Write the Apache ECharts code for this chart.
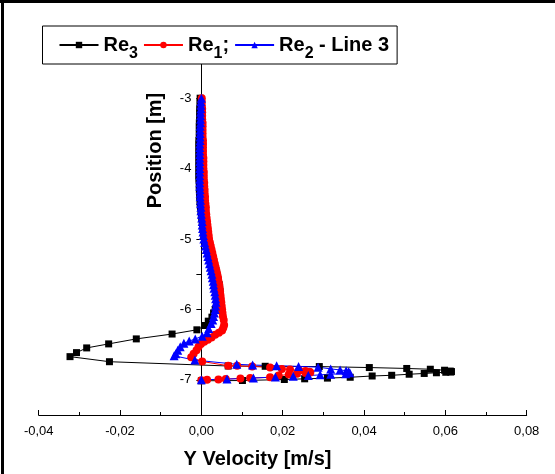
<!DOCTYPE html>
<html>
<head>
<meta charset="utf-8">
<script src="https://cdn.jsdelivr.net/npm/echarts@6/dist/echarts.min.js"></script>
<style>
html,body{margin:0;padding:0;background:#fff;}
#chart{width:555px;height:474px;}
</style>
</head>
<body>
<div id="chart"></div>
<script>
// ---- Data (velocity [m/s], position [m]) ----
const re3Y = [-3.00,-3.05,-3.10,-3.15,-3.20,-3.25,-3.30,-3.35,-3.40,-3.45,-3.50,-3.55,-3.60,-3.65,-3.70,-3.75,-3.80,-3.85,-3.90,-3.95,
  -4.00,-4.05,-4.10,-4.15,-4.20,-4.25,-4.30,-4.35,-4.40,-4.45,-4.50,-4.55,-4.60,-4.65,-4.70,-4.75,-4.80,-4.85,-4.90,-4.95,
  -5.00,-5.05,-5.10,-5.15,-5.20,-5.25,-5.30,-5.35,-5.40,-5.45,-5.50,-5.55,-5.60,-5.65,-5.70,-5.75,-5.80,-5.85,-5.90,-5.95,
  -6.00,-6.05,-6.11,-6.167,-6.229,-6.29,-6.35,-6.419,-6.49,-6.547,-6.614,-6.671,-6.743,-6.804,-6.808,-6.812,-6.826,-6.839,
  -6.85,-6.864,-6.876,-6.883,-6.89,-6.893,-6.90,-6.91,-6.921,-6.936,-6.946,-6.964,-6.976,-6.986,-6.996,-7.01,-7.014];
const re3X = [-0.0003,-0.0003,-0.0003,-0.0004,-0.0004,-0.0004,-0.0004,-0.0005,-0.0005,-0.0005,-0.0005,-0.0005,-0.0006,-0.0006,-0.0006,-0.0006,-0.0006,-0.0006,-0.0006,-0.0006,
  -0.0006,-0.0006,-0.0006,-0.0006,-0.0005,-0.0005,-0.0005,-0.0004,-0.0004,-0.0003,-0.0003,-0.0002,-0.0001,0.0000,0.0001,0.0002,0.0003,0.0004,0.0005,0.0006,
  0.0008,0.0010,0.0013,0.0016,0.0019,0.0023,0.0027,0.0030,0.0033,0.0036,0.0038,0.0040,0.0042,0.0044,0.0045,0.0046,0.0046,0.0045,0.0042,0.0038,
  0.0034,0.0030,0.0026,0.0017,0.0010,-0.0011,-0.0072,-0.0160,-0.0228,-0.0282,-0.0307,-0.0323,-0.0226,0.0066,0.0157,0.0290,0.0413,0.0505,
  0.0563,0.0598,0.0612,0.0615,0.0613,0.0601,0.0578,0.0548,0.0511,0.0468,0.0420,0.0366,0.0310,0.0254,0.0204,0.0101,0.0000];

const re1Y = [-3.00,-3.05,-3.10,-3.15,-3.20,-3.25,-3.30,-3.35,-3.40,-3.45,-3.50,-3.55,-3.60,-3.65,-3.70,-3.75,-3.80,-3.85,-3.90,-3.95,
  -4.00,-4.05,-4.10,-4.15,-4.20,-4.25,-4.30,-4.35,-4.40,-4.45,-4.50,-4.55,-4.60,-4.65,-4.70,-4.75,-4.80,-4.85,-4.90,-4.95,
  -5.00,-5.05,-5.10,-5.15,-5.20,-5.25,-5.30,-5.35,-5.40,-5.45,-5.50,-5.55,-5.60,-5.65,-5.70,-5.75,-5.80,-5.85,-5.90,-5.95,
  -6.00,-6.05,-6.10,-6.15,-6.22,-6.26,-6.30,-6.33,-6.36,-6.40,-6.43,-6.46,-6.49,-6.53,-6.58,-6.63,-6.68,-6.74,-6.80,-6.802,
  -6.81,-6.825,-6.845,-6.855,-6.865,-6.875,-6.885,-6.895,-6.905,-6.915,-6.925,-6.94,-6.965,-6.975,-6.98,-6.99,-6.995,-7.00,-7.005];
const re1X = [0.0001,0.0001,0.0001,0.0002,0.0002,0.0002,0.0002,0.0003,0.0003,0.0003,0.0003,0.0003,0.0004,0.0004,0.0004,0.0004,0.0004,0.0005,0.0005,0.0005,
  0.0005,0.0006,0.0006,0.0006,0.0007,0.0007,0.0008,0.0008,0.0009,0.0009,0.0010,0.0011,0.0011,0.0012,0.0013,0.0014,0.0015,0.0016,0.0017,0.0018,
  0.0019,0.0021,0.0023,0.0025,0.0027,0.0029,0.0031,0.0033,0.0035,0.0037,0.0039,0.0041,0.0042,0.0044,0.0045,0.0046,0.0047,0.0048,0.0049,0.0050,
  0.0051,0.0052,0.0053,0.0055,0.0056,0.0054,0.0051,0.0043,0.0034,0.0025,0.0016,0.0007,-0.0001,-0.0007,-0.0012,-0.0019,-0.0025,0.0002,0.0066,0.0088,
  0.0125,0.0169,0.0198,0.0218,0.0240,0.0256,0.0266,0.0268,0.0256,0.0235,0.0215,0.0190,0.0169,0.0120,0.0096,0.0060,0.0042,0.0014,0.0000];

const re2Y = [-3.00,-3.05,-3.10,-3.15,-3.20,-3.25,-3.30,-3.35,-3.40,-3.45,-3.50,-3.55,-3.60,-3.65,-3.70,-3.75,-3.80,-3.85,-3.90,-3.95,
  -4.00,-4.05,-4.10,-4.15,-4.20,-4.25,-4.30,-4.35,-4.40,-4.45,-4.50,-4.55,-4.60,-4.65,-4.70,-4.75,-4.80,-4.85,-4.90,-4.95,
  -5.00,-5.05,-5.10,-5.15,-5.20,-5.25,-5.30,-5.35,-5.40,-5.45,-5.50,-5.55,-5.60,-5.65,-5.70,-5.75,-5.80,-5.85,-5.90,-5.95,
  -6.00,-6.05,-6.10,-6.15,-6.20,-6.27,-6.33,-6.38,-6.42,-6.45,-6.48,-6.53,-6.58,-6.63,-6.66,-6.72,-6.78,-6.79,-6.80,-6.81,
  -6.82,-6.845,-6.86,-6.87,-6.885,-6.90,-6.915,-6.92,-6.93,-6.94,-6.95,-6.96,-6.975,-6.99,-7.00];
const re2X = [0.0000,-0.0001,-0.0001,-0.0001,-0.0002,-0.0002,-0.0002,-0.0002,-0.0003,-0.0003,-0.0003,-0.0003,-0.0003,-0.0004,-0.0004,-0.0004,-0.0004,-0.0004,-0.0004,-0.0004,
  -0.0004,-0.0004,-0.0004,-0.0004,-0.0004,-0.0004,-0.0003,-0.0003,-0.0003,-0.0002,-0.0002,-0.0001,-0.0001,0.0000,0.0001,0.0002,0.0002,0.0003,0.0004,0.0005,
  0.0006,0.0008,0.0010,0.0012,0.0014,0.0016,0.0018,0.0020,0.0022,0.0024,0.0026,0.0027,0.0029,0.0030,0.0031,0.0033,0.0034,0.0035,0.0036,0.0035,
  0.0034,0.0032,0.0030,0.0028,0.0024,0.0018,0.0014,0.0002,-0.0015,-0.0030,-0.0043,-0.0052,-0.0058,-0.0063,-0.0067,-0.0016,0.0087,0.0126,0.0185,0.0239,
  0.0287,0.0318,0.0341,0.0356,0.0362,0.0365,0.0355,0.0318,0.0292,0.0263,0.0226,0.0182,0.0128,0.0063,0.0000];

const seriesNames = ['Re3', 'Re1', 'Re2'];
const legendLabels = {
  Re3: '{b|Re}{s|3}',
  Re1: '{b|Re}{s|1}{b|;}',
  Re2: '{b|Re}{s|2}{b| - Line 3}'
};
const xTicks = { min: -0.04, max: 0.08, step: 0.02 };
const yTicks = { min: -7.5, max: -2.5, step: 0.5 };

const FONT = '"Liberation Sans", Arial, Helvetica, sans-serif';
function pairs(xs, ys) { return ys.map((y, i) => [xs[i], y]); }

const GRID = { left: 38.7, right: 28.3, top: 63, bottom: 59 };
const plotW = 555 - GRID.left - GRID.right;
// place the y axis on x = 0 of the x scale
const yAxisShift = -plotW * (0 - xTicks.min) / (xTicks.max - xTicks.min);

const chart = echarts.init(document.getElementById('chart'), null, { renderer: 'canvas' });
chart.setOption({
  animation: false,
  backgroundColor: '#ffffff',
  grid: { left: GRID.left, right: GRID.right, top: GRID.top, bottom: GRID.bottom, containLabel: false },
  legend: {
    data: seriesNames,
    left: 42.5, top: 26,
    orient: 'horizontal',
    itemWidth: 39, itemHeight: 8, itemGap: 5,
    padding: [2, 8, 2, 16],
    borderColor: '#000', borderWidth: 1, backgroundColor: '#fff',
    formatter: name => legendLabels[name],
    textStyle: {
      color: '#000',
      rich: {
        b: { fontSize: 20, fontWeight: 'bold', fontFamily: FONT, color: '#000', lineHeight: 32 },
        s: { fontSize: 16, fontWeight: 'bold', fontFamily: FONT, color: '#000', lineHeight: 14, padding: [18, 0, 0, 0] }
      }
    }
  },
  xAxis: {
    type: 'value',
    min: xTicks.min, max: xTicks.max, interval: xTicks.step,
    axisLine: { onZero: false, lineStyle: { color: '#000', width: 1 } },
    axisTick: { inside: true, length: 5, lineStyle: { color: '#000' } },
    minorTick: { show: true, splitNumber: 2, length: 3, lineStyle: { color: '#000' } },
    splitLine: { show: false },
    axisLabel: {
      color: '#000', fontSize: 13, fontFamily: FONT, margin: 10,
      formatter: v => v.toFixed(2).replace('.', ',')
    }
  },
  yAxis: {
    type: 'value',
    position: 'left',
    offset: yAxisShift,
    min: yTicks.min, max: yTicks.max, interval: yTicks.step,
    axisLine: { onZero: false, lineStyle: { color: '#000', width: 1 } },
    axisTick: { inside: false, length: 5, lineStyle: { color: '#000' } },
    splitLine: { show: false },
    axisLabel: {
      color: '#000', fontSize: 13, fontFamily: FONT, margin: 10,
      formatter: v => (Math.abs(v - Math.round(v)) < 1e-9 ? String(Math.round(v)) : '')
    }
  },
  series: [
    { name: 'Re3', type: 'line', data: pairs(re3X, re3Y), symbol: 'rect', symbolSize: 7,
      color: '#000000', itemStyle: { color: '#000000' }, lineStyle: { color: '#000000', width: 1 } },
    { name: 'Re1', type: 'line', data: pairs(re1X, re1Y), symbol: 'circle', symbolSize: 8,
      color: '#ff0000', itemStyle: { color: '#ff0000' }, lineStyle: { color: '#ff0000', width: 1 } },
    { name: 'Re2', type: 'line', data: pairs(re2X, re2Y), symbol: 'triangle', symbolSize: 9,
      color: '#0000ff', itemStyle: { color: '#0000ff' }, lineStyle: { color: '#0000ff', width: 1 } }
  ],
  graphic: [
    { type: 'rect', shape: { x: 0, y: 0, width: 555, height: 3 }, style: { fill: '#000' }, silent: true },
    { type: 'rect', shape: { x: 1, y: 0, width: 3, height: 474 }, style: { fill: '#000' }, silent: true },
    { type: 'text', x: 257.5, y: 459, silent: true,
      style: { text: 'Y Velocity [m/s]', font: 'bold 20px ' + FONT, fill: '#000', textAlign: 'center', textVerticalAlign: 'middle' } },
    { type: 'text', x: 155, y: 150.5, rotation: Math.PI / 2, silent: true,
      style: { text: 'Position [m]', font: 'bold 20px ' + FONT, fill: '#000', textAlign: 'center', textVerticalAlign: 'middle' } }
  ]
});
</script>
</body>
</html>
